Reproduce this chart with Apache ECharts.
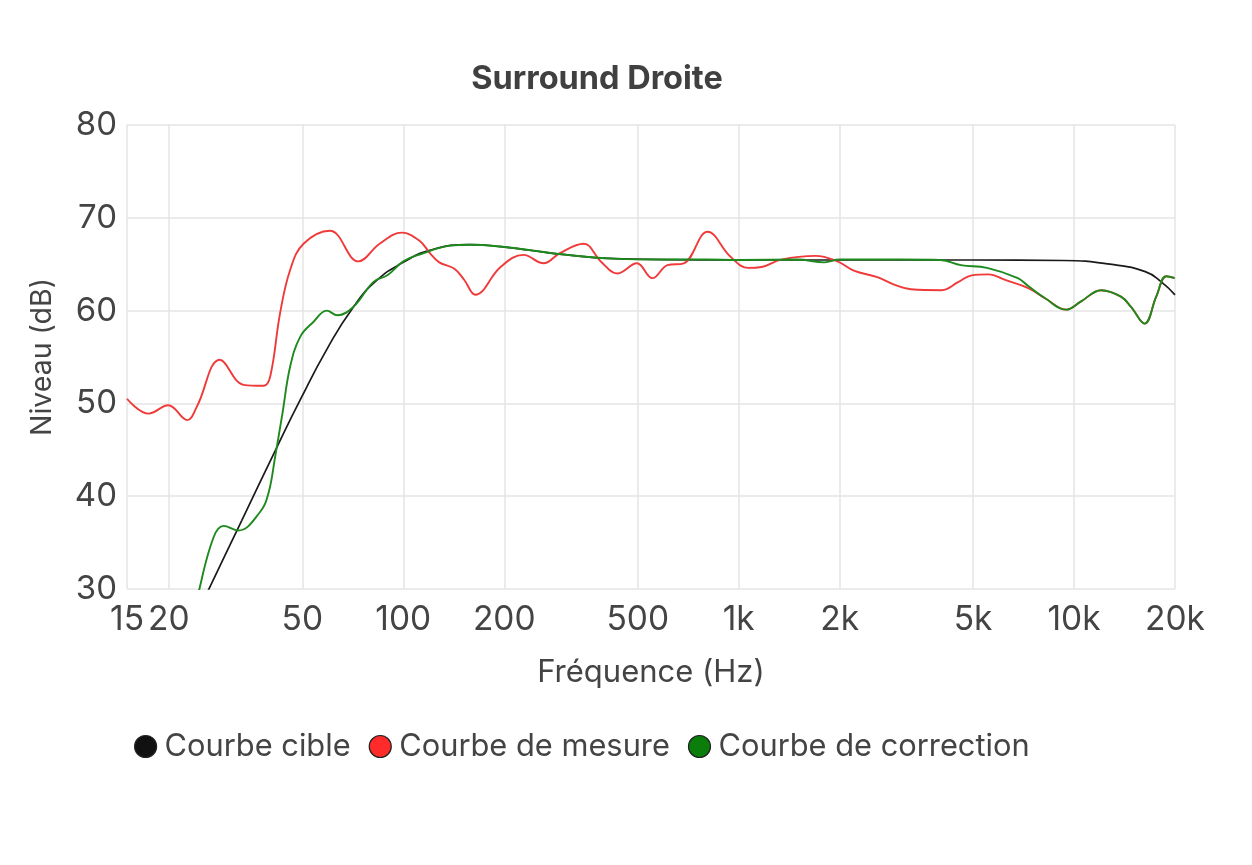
<!DOCTYPE html>
<html>
<head>
<meta charset="utf-8">
<title>Surround Droite</title>
<script src="https://cdn.jsdelivr.net/npm/echarts@6/dist/echarts.min.js"></script>
<style>
    html, body {margin: 0; padding: 0; background: #fff;}
    #chart {width: 1252px; height: 865px;}
</style>
</head>
<body>
<div id="chart"></div>
<script>
// graduations de l'axe des fréquences
var tickFreqs = [15, 20, 50, 100, 200, 500, 1000, 2000, 5000, 10000, 20000];
var tickLabels = ['15', '20', '50', '100', '200', '500', '1k', '2k', '5k', '10k', '20k'];

// courbe cible
var cibleFreq = [20, 26.4, 33, 42, 49.3, 59.1, 71, 83.6, 100, 120, 158, 195, 239, 309, 426, 600, 1000, 5000, 9300, 12800, 16300, 18200, 20000];
var cibleNiveau = [21, 30.1, 37.4, 45.3, 50.4, 55.8, 60.4, 63.3, 65.2, 66.5, 67.1, 66.9, 66.5, 66.0, 65.6, 65.5, 65.45, 65.45, 65.4, 65.0, 64.2, 63.1, 61.7];

// courbe de mesure
var mesureFreq = [15, 17.4, 19.9, 22.7, 24.2, 28.4, 33.4, 38.3, 40.1, 42.9, 46, 50.4, 60.4, 73.5, 85, 99, 112, 120, 128, 142, 152, 164, 195, 228, 262, 293, 345, 388, 435, 497, 553, 613, 686, 808, 946, 1068, 1169, 1339, 1697, 1970, 2205, 2590, 2907, 3264, 4029, 4524, 4950, 5556, 6234, 7329, 8220, 9465, 10500, 12045, 13800, 14790, 16230, 17580, 18840, 19950];
var mesureNiveau = [50.5, 48.9, 49.8, 48.2, 49.6, 54.7, 52.0, 51.9, 52.9, 59.7, 64.4, 67.2, 68.6, 65.3, 67.2, 68.4, 67.5, 66.2, 65.2, 64.5, 63.3, 61.7, 64.7, 66.0, 65.1, 66.2, 67.2, 65.3, 64.0, 65.1, 63.5, 64.9, 65.1, 68.5, 65.8, 64.6, 64.7, 65.5, 65.9, 65.3, 64.3, 63.6, 62.8, 62.3, 62.2, 63.1, 63.8, 63.9, 63.3, 62.4, 61.3, 60.1, 61.0, 62.2, 61.5, 60.4, 58.6, 61.5, 63.7, 63.5];

// courbe de correction
var correctionFreq = [23.5, 24.7, 27.2, 29.1, 32.2, 37.4, 39.6, 41.5, 43.6, 46, 49.3, 54, 59.1, 63.6, 71, 81.5, 89.6, 100, 113, 138, 158, 195, 239, 309, 426, 600, 800, 1000, 1500, 1800, 2000, 3000, 4000, 4600, 5500, 6800, 7300, 8220, 9465, 10500, 12045, 13800, 14790, 16230, 17580, 18840, 19950];
var correctionNiveau = [26, 30.1, 35.6, 36.8, 36.3, 38.3, 40.3, 44.3, 48.9, 54.0, 57.2, 58.8, 60.0, 59.5, 60.4, 63.1, 63.8, 65.3, 66.1, 67.0, 67.1, 66.9, 66.5, 66.0, 65.6, 65.5, 65.5, 65.45, 65.5, 65.2, 65.5, 65.5, 65.45, 64.9, 64.6, 63.5, 62.65, 61.3, 60.1, 61.0, 62.2, 61.5, 60.4, 58.6, 61.5, 63.7, 63.5];

var fontFamily = 'Inter, "Noto Sans", sans-serif';
var textColor = '#444';

//axe des fréquences en log10
function toPoints(freqs, levels) {
    var points = [];
    for (var i = 0; i < freqs.length; i++) {
        points.push([Math.log10(freqs[i]), levels[i]]);
    }
    return points;
}

var tickValues = tickFreqs.map(function (f) {
    return Math.log10(f);
});

function freqLabel(value) {
    for (var i = 0; i < tickValues.length; i++) {
        if (Math.abs(tickValues[i] - value) < 1e-6) {
            return tickLabels[i];
        }
    }
    return '';
}

var chart = echarts.init(document.getElementById('chart'));

var option = {
    backgroundColor: '#fff',
    animation: false,
    title: {
        text: 'Surround Droite',
        left: 592,
        top: 58,
        textAlign: 'center',
        textStyle: {
            fontFamily: fontFamily,
            fontSize: 32.5,
            fontWeight: 'bold',
            color: '#404040'
        }
    },
    legend: {
        left: 129,
        top: 726,
        icon: 'circle',
        itemWidth: 22,
        itemHeight: 22,
        itemGap: 18,
        itemStyle: {borderColor: '#222', borderWidth: 1.2},
        textStyle: {
            fontFamily: fontFamily,
            fontSize: 30.8,
            color: textColor,
            padding: [0, 0, 0, 3]
        },
        data: ['Courbe cible', 'Courbe de mesure', 'Courbe de correction']
    },
    grid: {
        left: 127,
        right: 77,
        top: 125,
        bottom: 276,
        containLabel: false
    },
    xAxis: {
        type: 'value',
        min: Math.log10(15),
        max: Math.log10(20000),
        name: 'Fréquence (Hz)',
        nameLocation: 'middle',
        nameGap: 68,
        nameTextStyle: {fontFamily: fontFamily, fontSize: 31, color: textColor},
        axisLine: {show: false},
        axisTick: {show: false, customValues: tickValues},
        axisLabel: {
            customValues: tickValues,
            formatter: freqLabel,
            showMinLabel: true,
            showMaxLabel: true,
            margin: 14,
            fontFamily: fontFamily,
            fontSize: 33.5,
            color: textColor
        },
        splitLine: {show: true, lineStyle: {color: '#e5e5e5', width: 1.5}}
    },
    yAxis: {
        type: 'value',
        min: 30,
        max: 80,
        interval: 10,
        name: 'Niveau (dB)',
        nameLocation: 'middle',
        nameGap: 70,
        nameTextStyle: {fontFamily: fontFamily, fontSize: 28.5, color: textColor},
        axisLine: {show: false},
        axisTick: {show: false},
        axisLabel: {
            margin: 10,
            fontFamily: fontFamily,
            fontSize: 33,
            color: textColor
        },
        splitLine: {show: true, lineStyle: {color: '#e5e5e5', width: 1.5}}
    },
    series: [
        {
            name: 'Courbe cible',
            type: 'line',
            smooth: 0.5,
            showSymbol: false,
            color: '#111',
            lineStyle: {color: '#1a1a1a', width: 1.7},
            data: toPoints(cibleFreq, cibleNiveau)
        },
        {
            name: 'Courbe de mesure',
            type: 'line',
            smooth: 0.4,
            showSymbol: false,
            color: '#ff2a2a',
            lineStyle: {color: '#f03a3a', width: 1.9},
            data: toPoints(mesureFreq, mesureNiveau)
        },
        {
            name: 'Courbe de correction',
            type: 'line',
            smooth: 0.4,
            showSymbol: false,
            color: '#0a7d0a',
            lineStyle: {color: '#1d8a1d', width: 1.9},
            data: toPoints(correctionFreq, correctionNiveau)
        }
    ]
};

chart.setOption(option);
</script>
</body>
</html>
